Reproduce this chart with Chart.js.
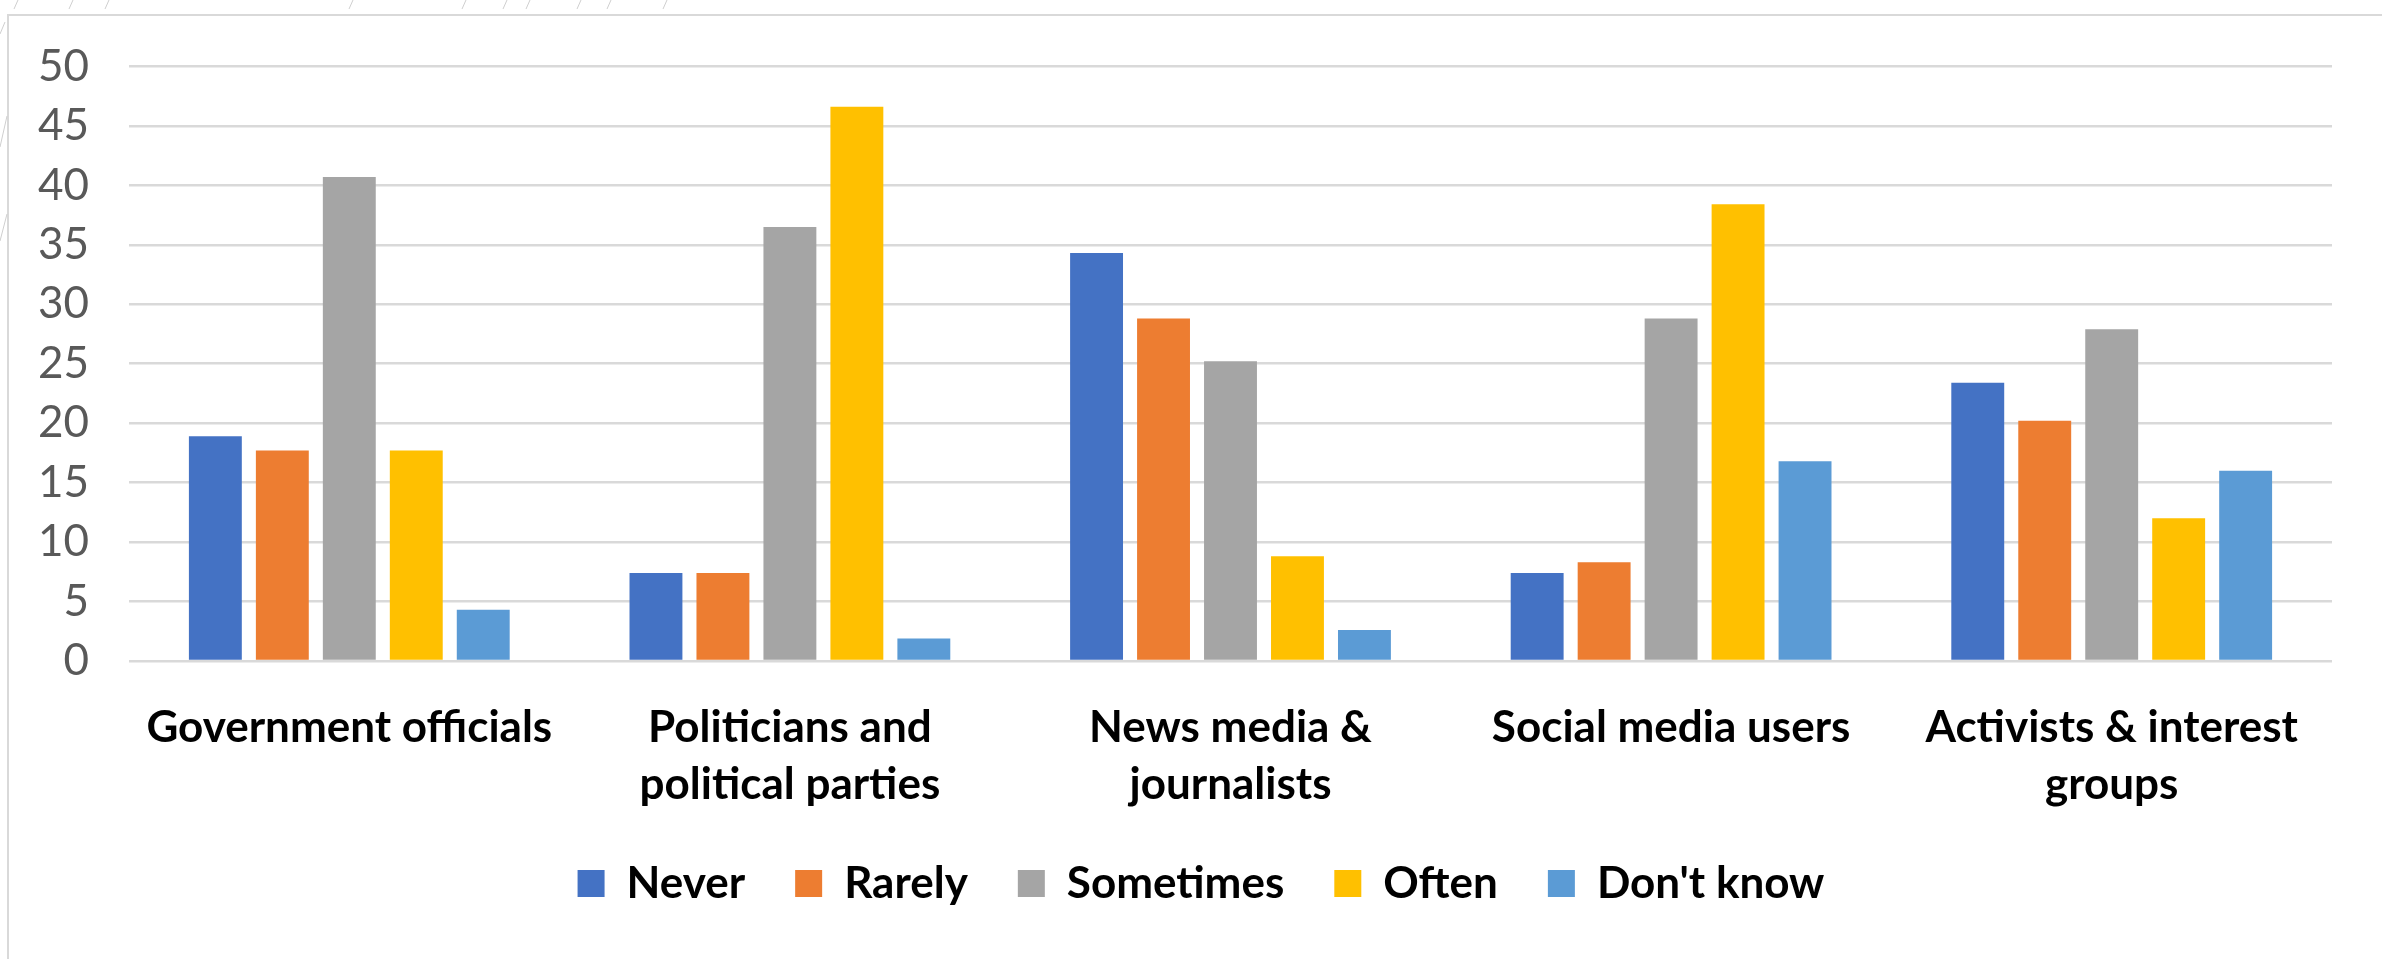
<!DOCTYPE html>
<html>
<head>
<meta charset="utf-8">
<script src="https://cdn.jsdelivr.net/npm/chart.js@4/dist/chart.umd.min.js"></script>
<style>
  html, body { margin: 0; padding: 0; background: #fff; }
</style>
</head>
<body>
<canvas id="trust-graph" width="2382" height="959"></canvas>
<script>
// Groups and answers

const groups = [
  'Government officials',
  ['Politicians and', 'political parties'],
  ['News media &', 'journalists'],
  'Social media users',
  ['Activists & interest', 'groups']
];

const never = [18.9, 7.4, 34.3, 7.4, 23.4];
const rarely = [17.7, 7.4, 28.8, 8.3, 20.2];
const sometimes = [40.7, 36.5, 25.2, 28.8, 27.9];
const often = [17.7, 46.6, 8.8, 38.4, 12.0];
const dontKnow = [4.3, 1.9, 2.6, 16.8, 16.0];

const yTicks = [0, 5, 10, 15, 20, 25, 30, 35, 40, 45, 50];

const labelFont = { family: 'Lato', size: 44, weight: 'bold', lineHeight: 1.3 };

// White page, grey frame and the little slashes round the edge
const frame = {
  id: 'frame',
  beforeDraw(chart) {
    const c = chart.ctx;
    c.save();
    c.fillStyle = '#fff';
    c.fillRect(0, 0, chart.width, chart.height);

    c.strokeStyle = '#d9d9d9';
    c.lineWidth = 2;
    c.beginPath();
    c.moveTo(8, chart.height);
    c.lineTo(8, 15);
    c.lineTo(chart.width, 15);
    c.stroke();

    c.strokeStyle = '#cfcfcf';
    c.lineWidth = 1;
    c.beginPath();
    [14, 69, 105, 349, 462, 503, 526, 577, 607, 663].forEach(x => {
      c.moveTo(x, 9);
      c.lineTo(x + 4, 0);
    });
    [[0, 34, 5, 22], [0, 147, 7, 116], [0, 241, 7, 214]].forEach(s => {
      c.moveTo(s[0], s[1]);
      c.lineTo(s[2], s[3]);
    });
    c.stroke();
    c.restore();
  }
};

const trustChart = document.querySelector('#trust-graph');

const trustData = {
  labels: groups,
  datasets: [
    { label: 'Never', data: never, backgroundColor: '#4472C4' },
    { label: 'Rarely', data: rarely, backgroundColor: '#ED7D31' },
    { label: 'Sometimes', data: sometimes, backgroundColor: '#A5A5A5' },
    { label: 'Often', data: often, backgroundColor: '#FFC000' },
    { label: "Don't know", data: dontKnow, backgroundColor: '#5B9BD5' }
  ]
};

const trustOptions = {
  responsive: false,
  animation: false,
  layout: {
    padding: { top: 64, left: 20, right: 0, bottom: 43.5 }
  },
  datasets: {
    bar: { categoryPercentage: 0.76, barPercentage: 0.79 }
  },
  scales: {
    x: {
      grid: { display: false },
      border: { display: false },
      ticks: {
        color: '#000',
        font: labelFont,
        padding: 30,
        maxRotation: 0,
        autoSkip: false
      },
      afterFit: (scale) => { scale.height = 150.5; }
    },
    y: {
      min: 0,
      max: 50,
      afterBuildTicks: (scale) => { scale.ticks = yTicks.map(v => ({ value: v })); },
      ticks: {
        color: '#595959',
        font: { family: 'Lato', size: 44 },
        padding: 40
      },
      grid: { color: '#d9d9d9', lineWidth: 2.5, drawTicks: false },
      border: { display: false },
      afterFit: (scale) => { scale.width = 109; }
    },
    // empty strip on the right so the plot stops short of the edge
    side: {
      position: 'right',
      min: 0,
      max: 50,
      grid: { display: false },
      border: { display: false },
      ticks: { display: false },
      afterFit: (scale) => { scale.width = 50; }
    }
  },
  plugins: {
    legend: {
      position: 'bottom',
      labels: {
        boxWidth: 27,
        boxHeight: 27,
        padding: 50,
        color: '#000',
        font: labelFont
      }
    },
    tooltip: { enabled: false }
  }
};

const trustBarChart = new Chart(trustChart, {
  type: 'bar',
  data: trustData,
  options: trustOptions,
  plugins: [frame]
});
</script>
</body>
</html>
